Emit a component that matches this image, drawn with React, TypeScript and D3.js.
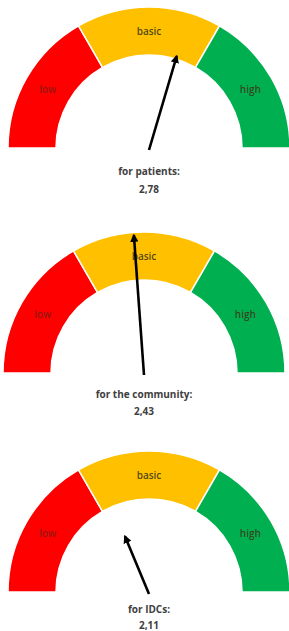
import * as d3 from "d3";
import { useEffect, useRef } from "react";

// levels of the scale, one band each
const levels = ["low", "basic", "high"];
const levelColors = ["#ff0000", "#ffc000", "#00b050"];

// scale runs from 1 to 4
const scaleMin = 1;
const scaleMax = 4;

// one gauge per group
const groups = ["for patients:", "for the community:", "for IDCs:"];
const scores = [2.78, 2.43, 2.11];
const scoreLabels = ["2,78", "2,43", "2,11"];
// needle length, share of outer radius
const needleReach = [0.68, 0.98, 0.43];

function draw(node: SVGSVGElement) {
  const width = 289;
  const height = 631;
  const outer = 141;
  const inner = 93;
  // gauge centres and caption line offsets
  const centers = [
    [149, 148],
    [144, 373],
    [149, 592],
  ];
  const captionDy = [
    [27, 45],
    [25, 42],
    [21, 37],
  ];

  const svg = d3.select(node)
    .attr("width", width)
    .attr("height", height)
    .attr("viewBox", [0, 0, width, height].join(" "))
    .style("font-family", "'Open Sans', sans-serif");

  svg.selectAll("*").remove();

  svg.append("defs")
    .append("marker")
      .attr("id", "tip")
      .attr("viewBox", "0 0 10 10")
      .attr("refX", 8)
      .attr("refY", 5)
      .attr("markerWidth", 3.2)
      .attr("markerHeight", 3.2)
      .attr("markerUnits", "strokeWidth")
      .attr("orient", "auto")
    .append("path")
      .attr("d", "M0,0L10,5L0,10Z")
      .attr("fill", "#000");

  // angle in degrees, 0 = straight up
  const angle = d3.scaleLinear()
    .domain([scaleMin, scaleMax])
    .range([-90, 90]);

  const band = d3.scaleBand<string>()
    .domain(levels)
    .range([scaleMin, scaleMax]);

  const arc = d3.arc<string>()
    .innerRadius(inner)
    .outerRadius(outer)
    .startAngle((d) => (angle(band(d)!) * Math.PI) / 180)
    .endAngle((d) => (angle(band(d)! + band.bandwidth()) * Math.PI) / 180);

  const gauges = svg.selectAll("g.gauge")
    .data(groups)
    .join("g")
      .attr("class", "gauge")
      .attr("transform", (_, i) => `translate(${centers[i][0]},${centers[i][1]})`);

  gauges.selectAll("path.band")
    .data(levels)
    .join("path")
      .attr("class", "band")
      .attr("d", (d) => arc(d))
      .attr("fill", (_, i) => levelColors[i])
      .attr("stroke", "#fff")
      .attr("stroke-width", 1.5);

  const mid = (inner + outer) / 2;
  gauges.selectAll("text.level")
    .data(levels)
    .join("text")
      .attr("class", "level")
      .attr("x", (d) => {
        const a = (angle(band(d)! + band.bandwidth() / 2) * Math.PI) / 180;
        return Math.sin(a) * mid;
      })
      .attr("y", (d) => {
        const a = (angle(band(d)! + band.bandwidth() / 2) * Math.PI) / 180;
        return -Math.cos(a) * mid;
      })
      .attr("dy", "0.35em")
      .attr("text-anchor", "middle")
      .attr("font-size", 10)
      .attr("font-weight", 600)
      .attr("fill", (d) => (d === "low" ? "#8a1a10" : "#3a3a1a"))
      .attr("fill-opacity", 0.9)
      .text((d) => d);

  // needles
  gauges.append("line")
    .attr("x1", 0)
    .attr("y1", 2)
    .attr("x2", (_, i) => Math.sin((angle(scores[i]) * Math.PI) / 180) * outer * needleReach[i])
    .attr("y2", (_, i) => -Math.cos((angle(scores[i]) * Math.PI) / 180) * outer * needleReach[i])
    .attr("stroke", "#000")
    .attr("stroke-width", 2.6)
    .attr("marker-end", "url(#tip)");

  gauges.append("text")
    .attr("y", (_, i) => captionDy[i][0])
    .attr("text-anchor", "middle")
    .attr("font-size", 10)
    .attr("font-weight", "bold")
    .attr("fill", "#404040")
    .text((d) => d);

  gauges.append("text")
    .attr("y", (_, i) => captionDy[i][1])
    .attr("text-anchor", "middle")
    .attr("font-size", 10)
    .attr("font-weight", "bold")
    .attr("fill", "#404040")
    .text((_, i) => scoreLabels[i]);
}

function App() {
  const ref = useRef<SVGSVGElement | null>(null);
  useEffect(() => {
    if (ref.current) draw(ref.current);
  }, []);
  return (
    <svg ref={ref} style={{ position: "absolute", left: 0, top: 0 }} />
  );
}

export default App;
